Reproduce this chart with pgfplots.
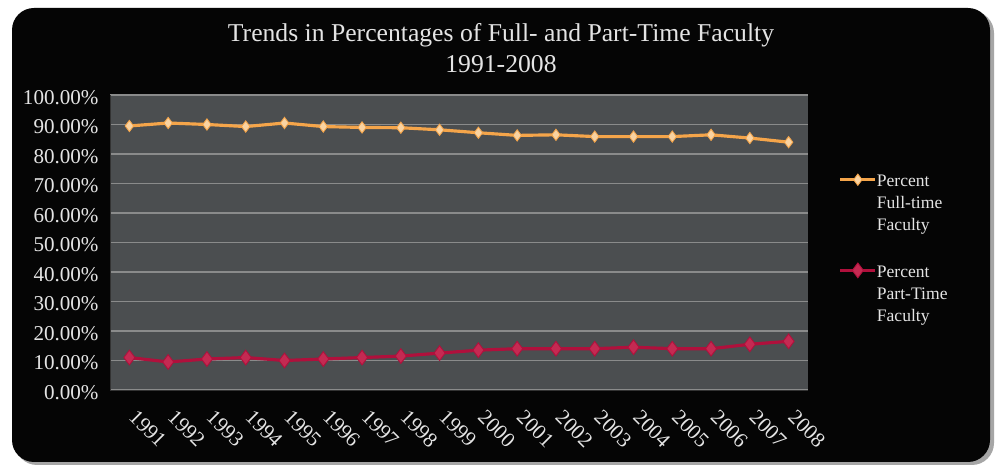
\documentclass[border=0pt]{standalone}
\usepackage{pgfplots}
\pgfplotsset{compat=1.18}
\usepackage{fontspec}
\setmainfont{Liberation Serif}

\definecolor{panel}{HTML}{050505}
\definecolor{plotbg}{HTML}{4B4E50}
\definecolor{gridc}{HTML}{8A8B8B}
\definecolor{labc}{HTML}{E4E4E4}
\definecolor{fullc}{HTML}{F5A54A}
\definecolor{fullm}{HTML}{F9D3A2}
\definecolor{partc}{HTML}{B0103C}
\definecolor{partm}{HTML}{C42A52}

% share of faculty, in percent
\pgfplotstableread{
x year full part
1  1991 89.5 11.0
2  1992 90.5 9.5
3  1993 90.0 10.5
4  1994 89.3 11.0
5  1995 90.5 10.0
6  1996 89.3 10.5
7  1997 89.0 11.0
8  1998 88.9 11.5
9  1999 88.2 12.5
10 2000 87.2 13.5
11 2001 86.3 14.0
12 2002 86.5 14.0
13 2003 85.9 14.0
14 2004 85.9 14.5
15 2005 85.9 14.0
16 2006 86.5 14.0
17 2007 85.4 15.5
18 2008 84.0 16.5
}\facultydata

\begin{document}
\begin{tikzpicture}
  \useasboundingbox (0,0) rectangle (20cm,9.36cm);
  \fill[white] (0,0) rectangle (20cm,9.36cm);
  % card with shadow
  \fill[black!35, rounded corners=0.44cm] (0.30cm,0.06cm) rectangle (19.88cm,9.14cm);
  \fill[panel, rounded corners=0.44cm] (0.24cm,0.12cm) rectangle (19.8cm,9.2cm);
  \node[align=center, text=labc, font=\fontsize{14.6}{17.5}\selectfont]
    at (10.02cm,8.4cm) {Trends in Percentages of Full- and Part-Time Faculty\\1991-2008};

  \begin{axis}[
      at={(2.2cm,1.56cm)}, anchor=south west,
      scale only axis, width=13.96cm, height=5.9cm,
      axis background/.style={fill=plotbg},
      xmin=0.5, xmax=18.5, ymin=0, ymax=100,
      xtick={1,...,18},
      xticklabels={1991,1992,1993,1994,1995,1996,1997,1998,1999,2000,2001,2002,2003,2004,2005,2006,2007,2008},
      xticklabel style={rotate=-45, anchor=west, xshift=7.4pt, yshift=-8.2pt,
        text=labc, font=\fontsize{12}{14}\selectfont},
      extra x ticks={0.5,1.5,...,18.5},
      extra x tick labels={},
      extra x tick style={major tick length=3pt, tick align=outside,
        tick style={gridc}},
      major x tick style={draw=none},
      ytick={0,10,...,100},
      yticklabel={\pgfmathprintnumber[fixed,fixed zerofill,precision=2]{\tick}\%},
      yticklabel style={text=labc, font=\fontsize{12}{14}\selectfont,
        xshift=-3pt, yshift=-1.5pt,
        /pgf/number format/assume math mode=true},
      major y tick style={draw=none},
      ymajorgrids, grid style={gridc, line width=0.7pt},
      axis line style={black!80},
      axis x line*=bottom, axis y line*=left,
      legend style={at={(1.036,0.745)}, anchor=north west,
        fill=none, draw=none, text=labc,
        font=\fontsize{10}{12.5}\selectfont,
        row sep=17pt,
        nodes={align=left, anchor=north west, inner sep=0pt}},
      legend cell align=left,
      legend image code/.code={%
        \draw[#1, mark repeat=2, mark phase=2]
          plot coordinates {(0cm,-0.1cm) (0.35cm,-0.1cm) (0.7cm,-0.1cm)};},
    ]
    \addplot[fullc, line width=1.8pt, mark=diamond*, mark size=3.2pt,
      mark options={fill=fullm, draw=fullc, line width=0.5pt}]
      table[x=x, y=full] {\facultydata};
    \addlegendentry{Percent\\Full-time\\Faculty}
    \addplot[partc, line width=1.8pt, mark=diamond*, mark size=4.2pt,
      mark options={fill=partm, draw=partc, line width=0.5pt}]
      table[x=x, y=part] {\facultydata};
    \addlegendentry{Percent\\Part-Time\\Faculty}
  \end{axis}
\end{tikzpicture}
\end{document}
